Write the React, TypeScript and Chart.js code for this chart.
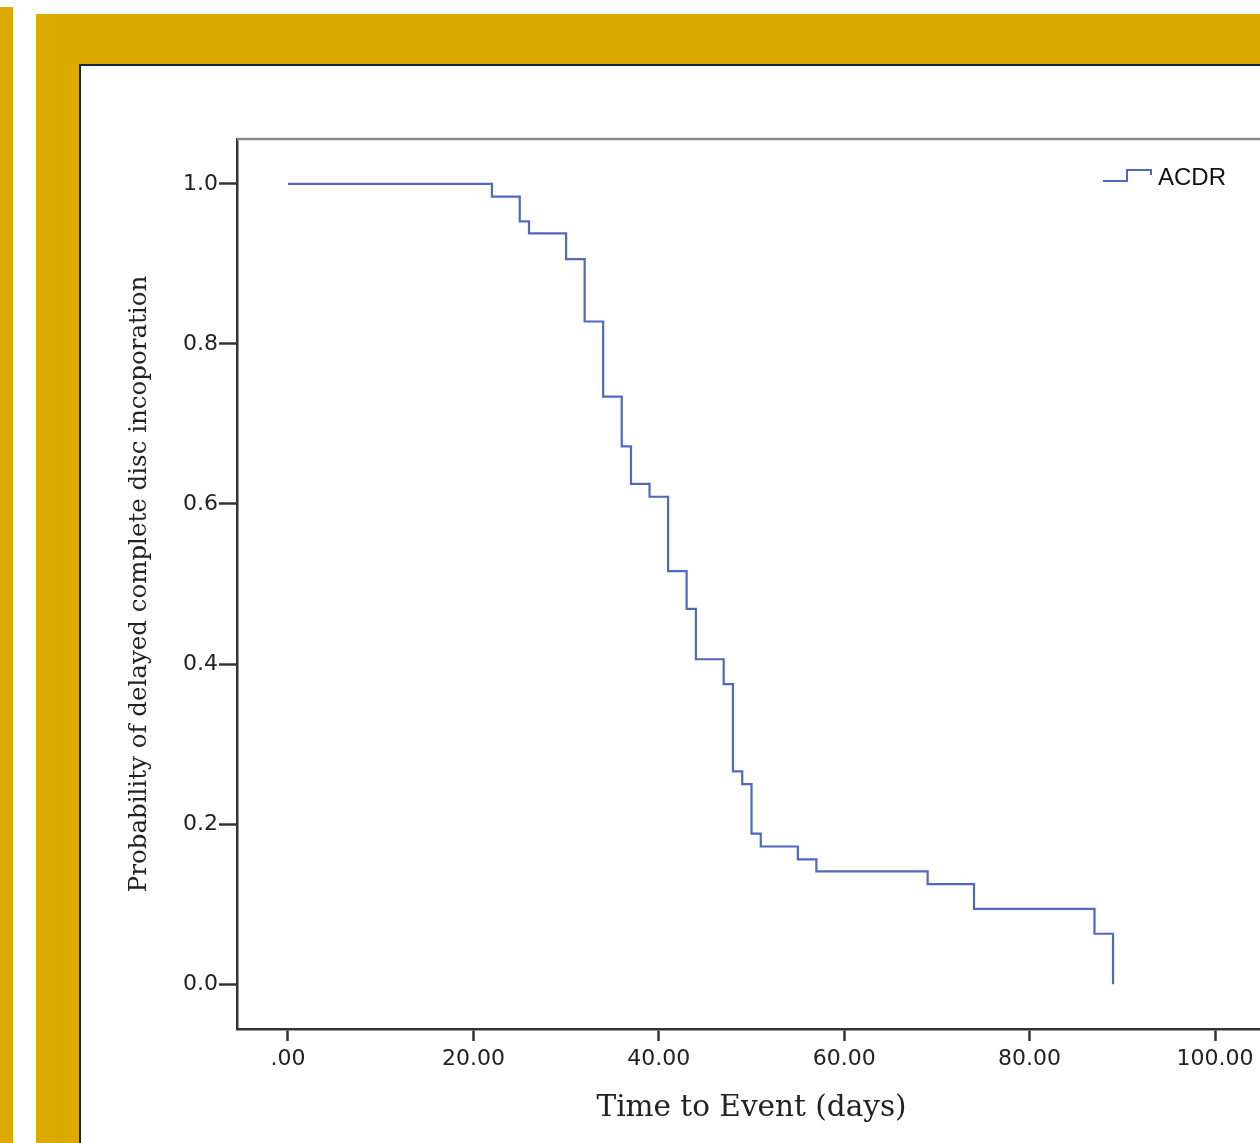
import React, { useEffect, useRef } from "react";
import { Chart, registerables } from "chart.js";

Chart.register(...registerables);

const times = [0, 22, 25, 26, 30, 32, 34, 36, 37, 39, 41, 43, 44, 47, 48, 49, 50, 51, 55, 57, 69, 74, 87, 89];
const survival = [1.0, 0.984, 0.953, 0.938, 0.906, 0.828, 0.734, 0.672, 0.625, 0.609, 0.516, 0.469, 0.406, 0.375, 0.266, 0.25, 0.188, 0.172, 0.156, 0.141, 0.125, 0.094, 0.063, 0.0];
const xTickValues = [0, 20, 40, 60, 80, 100];
const xTickLabels = [".00", "20.00", "40.00", "60.00", "80.00", "100.00"];
const yTickValues = [0, 0.2, 0.4, 0.6, 0.8, 1.0];
const yTickLabels = ["0.0", "0.2", "0.4", "0.6", "0.8", "1.0"];
const seriesName = "ACDR";
const xTitle = "Time to Event (days)";
const yTitle = "Probability of delayed complete disc incoporation";

const GOLD = "#DDAA00";
const LINE = "#5068BE";

const framePlugin = {
  id: "frame",
  afterDraw(chart: any) {
    const { ctx, chartArea } = chart;
    ctx.save();
    ctx.strokeStyle = "#8a8a8a";
    ctx.lineWidth = 2.5;
    ctx.beginPath();
    ctx.moveTo(chartArea.left, chartArea.top);
    ctx.lineTo(chartArea.right, chartArea.top);
    ctx.lineTo(chartArea.right, chartArea.bottom);
    ctx.stroke();
    // legend
    const lx = chartArea.right - 163;
    const ly = chartArea.top + 42;
    ctx.strokeStyle = LINE;
    ctx.lineWidth = 2;
    ctx.beginPath();
    ctx.moveTo(lx, ly);
    ctx.lineTo(lx + 24, ly);
    ctx.lineTo(lx + 24, ly - 11);
    ctx.lineTo(lx + 48, ly - 11);
    ctx.lineTo(lx + 48, ly - 6);
    ctx.stroke();
    ctx.fillStyle = "#111";
    ctx.font = "24px 'Liberation Sans', Arial, sans-serif";
    ctx.textBaseline = "alphabetic";
    ctx.textAlign = "left";
    ctx.fillText(seriesName, lx + 55, ly + 4);
    ctx.restore();
  },
};

export default function App() {
  const ref = useRef<HTMLCanvasElement | null>(null);
  useEffect(() => {
    if (!ref.current) return;
    const chart = new Chart(ref.current, {
      type: "line",
      data: {
        datasets: [
          {
            label: seriesName,
            data: times.map((t, i) => ({ x: t, y: survival[i] })),
            borderColor: LINE,
            borderWidth: 2.2,
            pointRadius: 0,
            stepped: true,
            fill: false,
          },
        ],
      },
      options: {
        animation: false,
        responsive: false,
        maintainAspectRatio: false,
        layout: { padding: { left: 0, top: 74, right: 54, bottom: 0 } },
        plugins: { legend: { display: false }, tooltip: { enabled: false } },
        scales: {
          x: {
            type: "linear",
            min: -5.5,
            max: 105.5,
            afterBuildTicks: (s: any) => {
              s.ticks = xTickValues.map((v) => ({ value: v }));
            },
            afterFit: (s: any) => {
              s.height = 114;
            },
            grid: {
              display: true,
              drawOnChartArea: false,
              drawTicks: true,
              tickLength: 12,
              tickWidth: 2.5,
              tickColor: "#333",
            },
            border: { display: true, color: "#333", width: 2.5 },
            ticks: {
              padding: 5,
              maxRotation: 0,
              autoSkip: false,
              color: "#222",
              font: { family: "'DejaVu Sans', sans-serif", size: 22 },
              callback: (v: any) => {
                const i = xTickValues.indexOf(Number(v));
                return i >= 0 ? xTickLabels[i] : "";
              },
            },
            title: {
              display: true,
              text: xTitle,
              color: "#222",
              font: { family: "'DejaVu Serif', serif", size: 29.5 },
              padding: { top: 0, bottom: 17 },
            },
          },
          y: {
            type: "linear",
            min: -0.056,
            max: 1.056,
            afterBuildTicks: (s: any) => {
              s.ticks = yTickValues.map((v) => ({ value: v }));
            },
            afterFit: (s: any) => {
              s.width = 157;
            },
            grid: {
              display: true,
              drawOnChartArea: false,
              drawTicks: true,
              tickLength: 18,
              tickWidth: 2.5,
              tickColor: "#333",
            },
            border: { display: true, color: "#333", width: 2.5 },
            ticks: {
              padding: 1,
              autoSkip: false,
              color: "#222",
              font: { family: "'DejaVu Sans', sans-serif", size: 22 },
              callback: (v: any) => {
                const i = yTickValues.findIndex((t) => Math.abs(t - Number(v)) < 1e-9);
                return i >= 0 ? yTickLabels[i] : "";
              },
            },
            title: {
              display: true,
              text: yTitle,
              color: "#222",
              font: { family: "'DejaVu Serif', serif", size: 24.5 },
              padding: { top: 45, bottom: 0 },
            },
          },
        },
      },
      plugins: [framePlugin],
    });
    return () => chart.destroy();
  }, []);

  return (
    <div
      style={{
        position: "fixed",
        left: 0,
        top: 0,
        width: 1260,
        height: 1143,
        overflow: "hidden",
        background: "#fff",
      }}
    >
      <div style={{ position: "absolute", left: 0, top: 7, width: 13, height: 1200, background: GOLD }} />
      <div style={{ position: "absolute", left: 36, top: 14, width: 1300, height: 1200, background: GOLD }} />
      <div
        style={{
          position: "absolute",
          left: 79,
          top: 64,
          width: 1300,
          height: 1200,
          background: "#fff",
          borderLeft: "2px solid #0A2A4A",
          borderTop: "2px solid #0A2A4A",
          boxSizing: "border-box",
        }}
      />
      <canvas
        ref={ref}
        width={1240}
        height={1078}
        style={{ position: "absolute", left: 80, top: 65, width: 1240, height: 1078 }}
      />
    </div>
  );
}
